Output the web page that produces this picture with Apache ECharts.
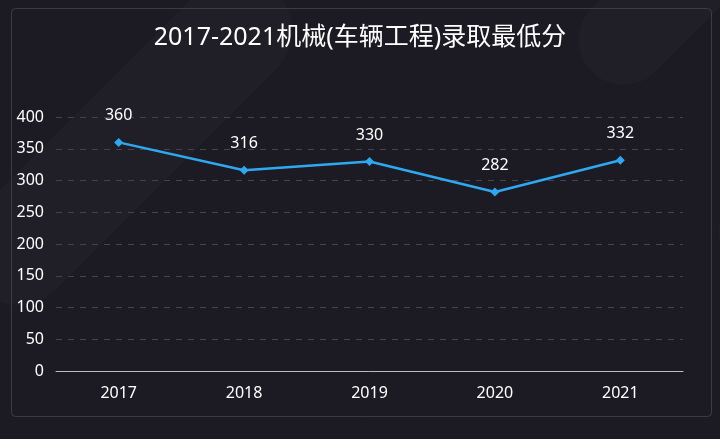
<!DOCTYPE html><html><head><meta charset="utf-8">
<script src="https://cdn.jsdelivr.net/npm/echarts@6/dist/echarts.min.js"></script>
<style>html,body{margin:0;padding:0;background:#1c1b24}#c{width:720px;height:439px}</style></head><body>
<div id="c"></div>
<script>
const categories=['2017','2018','2019','2020','2021'];
const values=[360,316,330,282,332];
const yTicks=[0,50,100,150,200,250,300,350,400];
const F='Noto Sans, Noto Sans CJK SC';
const chart=echarts.init(document.getElementById('c'));
chart.setOption({
 backgroundColor:'#1c1b24',
 textStyle:{fontFamily:F},
 graphic:[
  {type:'rect',left:9,top:6,shape:{width:700,height:408,r:4},style:{fill:'none',stroke:'#3c3c48',lineWidth:1},z:-1},
  {type:'rect',x:-60,y:250,rotation:Math.PI/4,shape:{width:420,height:110,r:55},style:{fill:'rgba(255,255,255,0.02)'},z:-2},
  {type:'rect',x:560,y:40,rotation:Math.PI/4,shape:{width:300,height:90,r:45},style:{fill:'rgba(255,255,255,0.02)'},z:-2},
  {type:'rect',x:700,y:230,rotation:Math.PI/4,shape:{width:300,height:90,r:45},style:{fill:'rgba(255,255,255,0.02)'},z:-2}
 ],
 title:{text:'2017-2021机械(车辆工程)录取最低分',left:'center',top:20,textStyle:{color:'#fff',fontSize:25,fontWeight:'normal',fontFamily:F}},
 grid:{left:56,right:37,top:117,bottom:68},
 xAxis:{type:'category',data:categories,axisLine:{lineStyle:{color:'#bbb'}},axisTick:{show:false},
  axisLabel:{color:'#fff',fontSize:16,margin:14,fontFamily:F}},
 yAxis:{type:'value',min:0,max:400,interval:50,axisLine:{show:false},axisTick:{show:false},
  axisLabel:{color:'#fff',fontSize:16,margin:12,fontFamily:F,formatter:v=>yTicks.includes(v)?String(v):''},
  splitLine:{lineStyle:{color:'#44444e',type:[6,6]}}},
 series:[{type:'line',data:values,symbol:'diamond',symbolSize:9,
  itemStyle:{color:'#2ea8f0'},lineStyle:{color:'#2ea8f0',width:2.5},
  label:{show:true,position:'top',distance:14,color:'#fff',fontSize:16,fontFamily:F}}]
});
</script></body></html>
